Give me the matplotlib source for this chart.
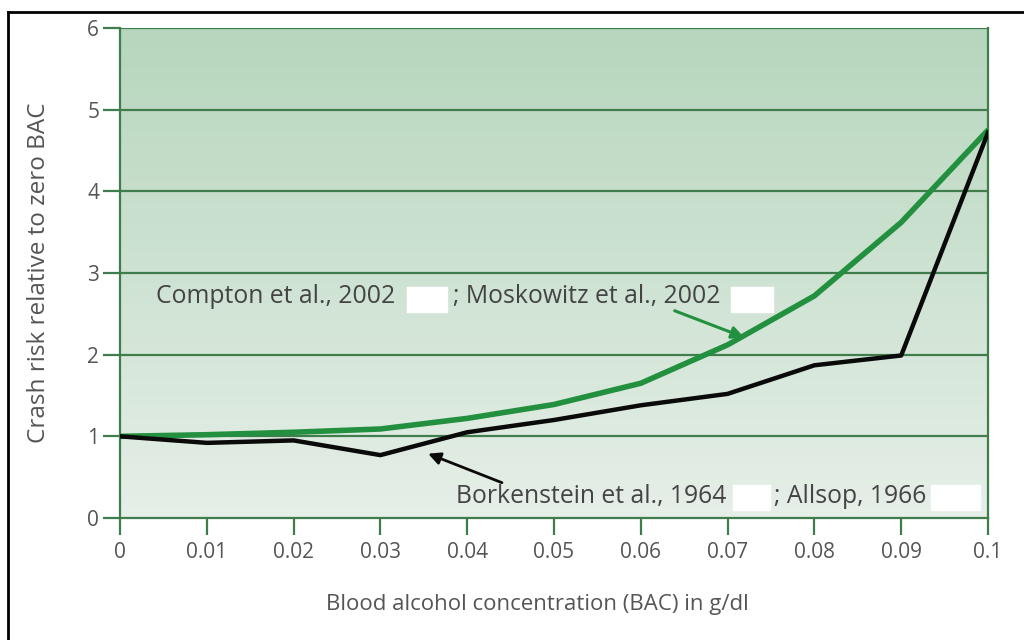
import numpy as np
import matplotlib.pyplot as plt
from matplotlib.colors import LinearSegmentedColormap
from matplotlib.lines import Line2D
from matplotlib.patches import Rectangle

# values
bac = [0, 0.01, 0.02, 0.03, 0.04, 0.05, 0.06, 0.07, 0.08, 0.09, 0.1]
compton = [1.0, 1.02, 1.05, 1.09, 1.22, 1.39, 1.65, 2.12, 2.72, 3.62, 4.75]
borkenstein = [1.0, 0.92, 0.95, 0.77, 1.05, 1.2, 1.38, 1.52, 1.87, 1.99, 4.72]
x_ticks = [0, 0.01, 0.02, 0.03, 0.04, 0.05, 0.06, 0.07, 0.08, 0.09, 0.1]
x_labels = ['0', '0.01', '0.02', '0.03', '0.04', '0.05', '0.06', '0.07', '0.08', '0.09', '0.1']
y_ticks = [0, 1, 2, 3, 4, 5, 6]

plt.rcParams['font.family'] = ['Open Sans', 'DejaVu Sans']
txt_col = '#555555'
grid_col = '#3f7d4c'

fig = plt.figure(figsize=(10.24, 6.4), dpi=100)
ax = fig.add_axes([120 / 1024, 1 - 518 / 640, 868 / 1024, 490 / 640])

# gradient background, dark green at top fading down
cmap = LinearSegmentedColormap.from_list('bg', ['#e6efe8', '#b6d6bd'])
grad = np.linspace(0, 1, 256).reshape(-1, 1)
ax.imshow(grad, cmap=cmap, origin='lower', aspect='auto',
          extent=[0, 0.1, 0, 6], zorder=0)

for y in y_ticks[1:]:
    ax.axhline(y, color=grid_col, lw=1.6, zorder=1)

ax.plot(bac, compton, color='#23903f', lw=4, zorder=3, solid_capstyle='round')
ax.plot(bac, borkenstein, color='#0a0a0a', lw=3.2, zorder=3)

ax.set_xlim(0, 0.1)
ax.set_ylim(0, 6)
ax.set_xticks(x_ticks)
ax.set_xticklabels(x_labels)
ax.set_yticks(y_ticks)
ax.tick_params(axis='both', colors=grid_col, labelcolor=txt_col, labelsize=15,
               length=12, width=1.6)
ax.tick_params(axis='x', pad=5)
ax.tick_params(axis='y', pad=3)
for side in ['left', 'bottom', 'right']:
    ax.spines[side].set_color(grid_col)
    ax.spines[side].set_linewidth(1.6)
ax.spines['top'].set_visible(False)

ax.set_xlabel('Blood alcohol concentration (BAC) in g/dl', color=txt_col, fontsize=16)
ax.set_ylabel('Crash risk relative to zero BAC', color=txt_col, fontsize=17.5)
ax.xaxis.set_label_coords((537 - 120) / 868, -0.155)
ax.yaxis.set_label_coords(-0.08, 0.5)

note_kw = dict(color='#444444', fontsize=17.8, va='center', ha='left', zorder=5)

# upper annotation (green line)
ax.annotate('', xy=(0.0722, 2.2), xytext=(0.0636, 2.55),
            arrowprops=dict(arrowstyle='-|>', color='#23903f', lw=2.2,
                            mutation_scale=18), zorder=4)
ax.text(0.0042, 2.71, 'Compton et al., 2002', **note_kw)
ax.text(0.0384, 2.71, '; Moskowitz et al., 2002', **note_kw)
ax.add_patch(Rectangle((0.0331, 2.52), 0.0046, 0.31, color='white', zorder=5))
ax.add_patch(Rectangle((0.0704, 2.52), 0.0048, 0.31, color='white', zorder=5))

# lower annotation (black line)
ax.annotate('', xy=(0.0352, 0.8), xytext=(0.0443, 0.42),
            arrowprops=dict(arrowstyle='-|>', color='#0a0a0a', lw=2,
                            mutation_scale=18), zorder=4)
ax.text(0.0387, 0.26, 'Borkenstein et al., 1964', **note_kw)
ax.text(0.0754, 0.26, '; Allsop, 1966', **note_kw)
ax.add_patch(Rectangle((0.0706, 0.1), 0.0043, 0.31, color='white', zorder=5))
ax.add_patch(Rectangle((0.0934, 0.1), 0.0057, 0.31, color='white', zorder=5))

# outer frame (top and left visible)
fig.add_artist(Line2D([8 / 1024, 1], [1 - 12 / 640, 1 - 12 / 640], color='black', lw=2))
fig.add_artist(Line2D([8 / 1024, 8 / 1024], [0, 1 - 12 / 640], color='black', lw=2))

fig.savefig('out.png', dpi=100)
